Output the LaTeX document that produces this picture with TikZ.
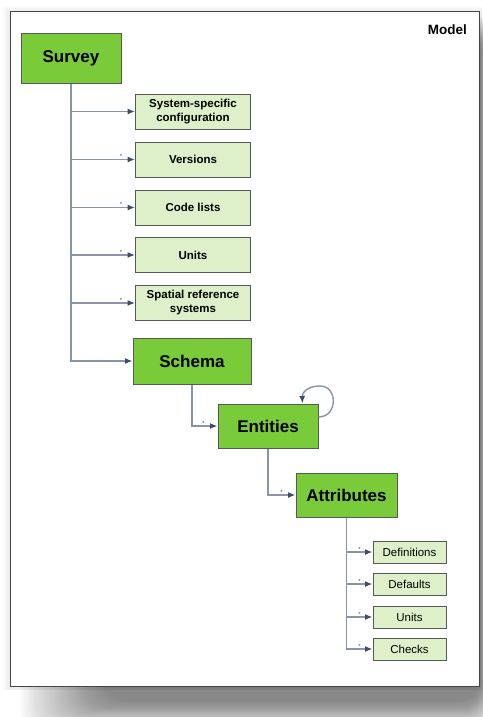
\documentclass[tikz,border=0pt]{standalone}
\usepackage{fontspec}
\setmainfont{Liberation Sans}
\usetikzlibrary{arrows.meta}
\definecolor{biggreen}{HTML}{7ACB3A}
\definecolor{lightgreen}{HTML}{DDF0C9}
\definecolor{boxline}{HTML}{555A55}
\definecolor{linegray}{HTML}{8A94A8}
\definecolor{arrowdark}{HTML}{3E4C6E}
\definecolor{framecol}{HTML}{444444}
\tikzset{
  bigbox/.style={draw=boxline, fill=biggreen, line width=1pt, inner sep=0pt,
    font=\fontsize{17}{20}\selectfont\bfseries},
  smallbox/.style={draw=boxline, fill=lightgreen, line width=1pt, inner sep=0pt,
    minimum width=115pt, minimum height=35pt, align=center,
    font=\fontsize{11.5}{14}\selectfont\bfseries},
  leafbox/.style={draw=boxline, fill=lightgreen, line width=1pt, inner sep=0pt,
    minimum width=73pt, minimum height=22pt,
    font=\fontsize{11.5}{14}\selectfont},
  conn/.style={draw=linegray, line width=1.4pt,
    -{Latex[length=7.5pt,width=6pt,color=arrowdark]}},
  mult/.style={font=\fontsize{6}{6}\selectfont, text=arrowdark, inner sep=0pt},
}
\begin{document}
\begin{tikzpicture}[x=1pt,y=-1pt]
\useasboundingbox (0,0) rectangle (482,717);
% shadow
\foreach \i in {0,...,39}
  \fill[black, opacity=0.017, rounded corners=20pt] ({20+2.2*\i},{14+0.5*\i}) rectangle ({492-0.3*\i},{732-0.8*\i});
\foreach \i in {0,...,5}
  \fill[black, opacity=0.01] ({2+1.3*\i},{6+\i}) rectangle (482,690);
% frame
\draw[framecol, fill=white, line width=0.9pt] (10,11) rectangle (479,686);
\node[anchor=east, font=\fontsize{13.5}{16}\selectfont\bfseries, inner sep=0pt] (model) at (467,30) {Model};

% main boxes
\node[bigbox, minimum width=100pt, minimum height=49pt] (survey) at (71,58.5) {Survey};
\node[smallbox] (sys) at (193,111.5) {System-specific\\configuration};
\node[smallbox] (ver) at (193,159.5) {Versions};
\node[smallbox] (code) at (193,207.5) {Code lists};
\node[smallbox] (units) at (193,255) {Units};
\node[smallbox] (srs) at (193,303) {Spatial reference\\systems};
\node[bigbox, minimum width=118pt, minimum height=46pt] (schema) at (192,361) {Schema};
\node[bigbox, minimum width=100pt, minimum height=44pt] (entities) at (268,426) {Entities};
\node[bigbox, minimum width=101pt, minimum height=44pt] (attr) at (346.5,495) {Attributes};

\node[leafbox] (defs) at (409.5,552) {Definitions};
\node[leafbox] (defaults) at (409.5,584) {Defaults};
\node[leafbox] (aunits) at (409.5,617) {Units};
\node[leafbox] (checks) at (409.5,649) {Checks};

% survey connectors
\draw[conn] (survey.south) |- (schema.west);
\foreach \n in {sys,ver,code,units,srs}
  \draw[conn] (survey.south |- \n.west) -- (\n.west);
\foreach \n in {ver,code,units,srs}
  \node[mult] at ([xshift=-14pt,yshift=3pt]\n.west) {*};

% schema -> entities
\draw[conn] (schema.south) |- (entities.west);
\node[mult] at ([xshift=-14pt,yshift=3pt]entities.west) {*};
% self loop
\coordinate (loopstart) at ([yshift=9pt]entities.east);
\coordinate (loopend) at ([xshift=-16pt]entities.north east);
\draw[conn] (loopstart) .. controls (338,417) and (338,386) .. (320,386)
  .. controls (307,386) and (302,393) .. (loopend);

% entities -> attributes
\draw[conn] (entities.south) |- (attr.west);
\node[mult] at ([xshift=-14pt,yshift=3pt]attr.west) {*};

% attributes -> leaves
\draw[conn] (attr.south) |- (checks.west);
\foreach \n in {defs,defaults,aunits}
  \draw[conn] (attr.south |- \n.west) -- (\n.west);
\foreach \n in {defs,defaults,aunits,checks}
  \node[mult] at ([xshift=-13pt,yshift=3pt]\n.west) {*};
\end{tikzpicture}
\end{document}
